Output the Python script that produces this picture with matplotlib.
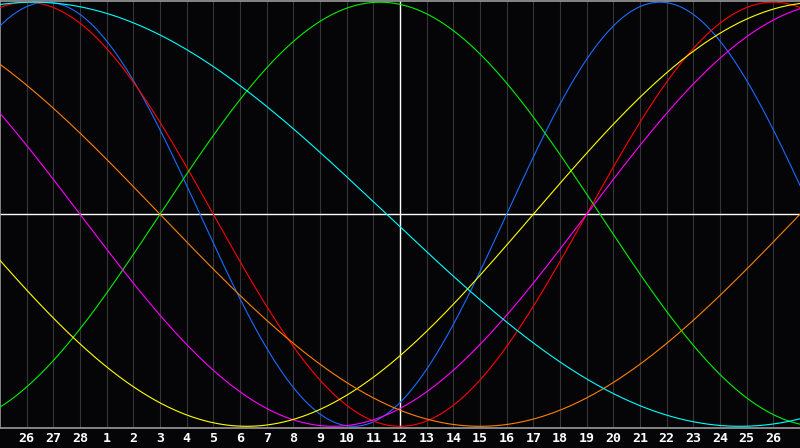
import numpy as np
import matplotlib
matplotlib.use("Agg")
import matplotlib.pyplot as plt

# --- DATA ---
BIRTH_DATE = "1900-04-03"
START_DATE = "2002-02-25"
N_DAYS = 30
TODAY_INDEX = 15  # Mar 12, white marker line
DAY_LABELS = ["26", "27", "28", "1", "2", "3", "4", "5", "6", "7", "8", "9", "10",
              "11", "12", "13", "14", "15", "16", "17", "18", "19", "20", "21",
              "22", "23", "24", "25", "26"]
CYCLE_NAMES = ["physical", "emotional", "intellectual", "intuitive",
               "aesthetic", "awareness", "spiritual"]
CYCLE_DAYS = [23, 28, 33, 38, 43, 48, 53]
CYCLE_COLORS = ["#1a6cff", "#ff0000", "#00f000", "#ff00ff",
                "#ffff00", "#ff8000", "#00ffff"]

# --- STYLE ---
BG = "#050508"
GRID = "#363636"
FRAME = "#9a9a9a"

fig = plt.figure(figsize=(8, 4.48), dpi=100, facecolor=BG)
ax = fig.add_axes([0, 20 / 448, 1, 427.5 / 448])
ax.set_facecolor(BG)

days_alive = (np.datetime64(START_DATE) - np.datetime64(BIRTH_DATE)).astype(int)
t = np.linspace(0, N_DAYS, 1201)

# day grid
for d in range(1, N_DAYS):
    ax.axvline(d, color=GRID, lw=0.8, zorder=1)

ax.axhline(0, color="white", lw=1.0, zorder=2)
ax.axvline(TODAY_INDEX, color="white", lw=1.0, zorder=2)

for name, period, col in zip(CYCLE_NAMES, CYCLE_DAYS, CYCLE_COLORS):
    ax.plot(t, np.sin(2 * np.pi * (days_alive + t) / period),
            color=col, lw=0.8, label=name, zorder=3)

ax.set_xlim(0, N_DAYS)
ax.set_ylim(-1.008, 1.008)
ax.set_yticks([])
ax.set_xticks(range(1, N_DAYS))
ax.set_xticklabels(DAY_LABELS, family="DejaVu Sans Mono", fontweight="bold",
                   fontsize=9.5, color="white")
ax.tick_params(axis="x", length=0, pad=3)

for s in ["left", "top", "bottom"]:
    ax.spines[s].set_color(FRAME)
    ax.spines[s].set_linewidth(1.2)
ax.spines["right"].set_visible(False)

fig.savefig("out.png", dpi=100, facecolor=BG)
